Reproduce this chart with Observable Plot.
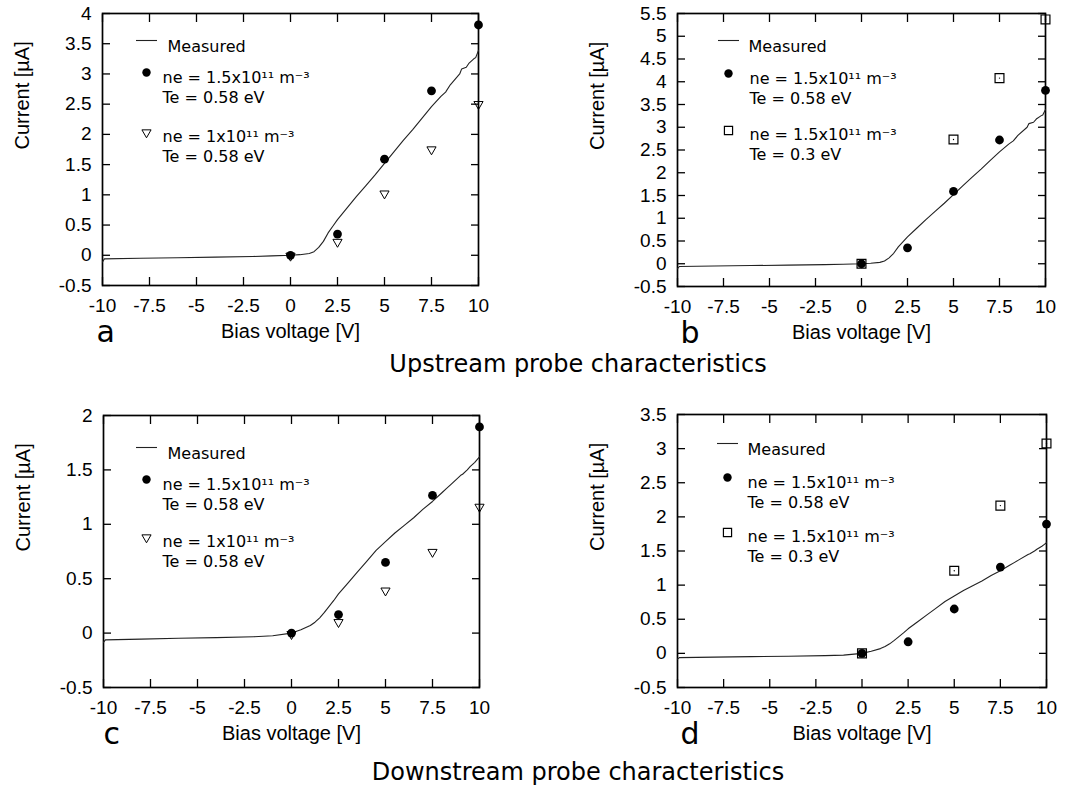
<!DOCTYPE html>
<html>
<head>
<meta charset="utf-8">
<script src="https://cdn.jsdelivr.net/npm/d3@7"></script>
<script src="https://cdn.jsdelivr.net/npm/@observablehq/plot@0.6"></script>
<style>
  body { margin: 0; background: #fff; }
  #fig { position: relative; width: 1074px; height: 786px; overflow: hidden; background: #fff; }
  .panel { position: absolute; }
  .caption {
    position: absolute; transform: translateX(-50%); white-space: nowrap;
    font-family: "DejaVu Sans"; font-size: 24px; line-height: 24px; color: #000;
  }
</style>
</head>
<body>
<div id="fig"></div>
<script>
// Bias sweep (V) at which the measured I–V traces are sampled
const sweepBias = [-10, -9.9, -8, -6, -4, -2, -1, 0, 0.5, 1, 1.25, 1.5, 1.75, 2, 2.25, 2.5, 3, 3.5, 4, 4.5, 5, 5.5, 6, 6.5, 7, 7.5, 8, 8.25, 8.5, 9, 9.1, 9.35, 9.5, 9.75, 9.85, 10];
// Measured probe current (µA)
const upstreamMeasured = [-0.11, -0.06, -0.05, -0.04, -0.03, -0.02, -0.01, 0, 0.01, 0.03, 0.06, 0.13, 0.23, 0.37, 0.48, 0.59, 0.78, 0.97, 1.15, 1.33, 1.52, 1.71, 1.9, 2.08, 2.27, 2.46, 2.63, 2.7, 2.82, 3.0, 3.08, 3.11, 3.18, 3.25, 3.27, 3.39];
const downstreamMeasured = [-0.085, -0.062, -0.055, -0.048, -0.042, -0.033, -0.025, 0, 0.03, 0.07, 0.1, 0.14, 0.19, 0.245, 0.3, 0.36, 0.46, 0.56, 0.66, 0.76, 0.84, 0.92, 0.99, 1.06, 1.14, 1.21, 1.29, 1.33, 1.37, 1.45, 1.46, 1.5, 1.53, 1.57, 1.59, 1.62];

// Model bias points (V)
const modelBias = [0, 2.5, 5, 7.5, 10];
const coldBias = [0, 5, 7.5, 10];
// Model currents (µA)
const upstreamDense = [0, 0.35, 1.59, 2.72, 3.81];     // ne = 1.5e11, Te = 0.58 eV
const upstreamSparse = [-0.01, 0.22, 1.02, 1.75, 2.5];  // ne = 1e11,   Te = 0.58 eV
const upstreamCold = [0, 2.73, 4.08, 5.37];             // ne = 1.5e11, Te = 0.3 eV
const downstreamDense = [0, 0.17, 0.65, 1.265, 1.895];
const downstreamSparse = [-0.01, 0.1, 0.39, 0.745, 1.16];
const downstreamCold = [0, 1.21, 2.165, 3.075];

// Axis ticks and text
const xTicks = [-10, -7.5, -5, -2.5, 0, 2.5, 5, 7.5, 10];
const yTicksA = [-0.5, 0, 0.5, 1, 1.5, 2, 2.5, 3, 3.5, 4];
const yTicksB = [-0.5, 0, 0.5, 1, 1.5, 2, 2.5, 3, 3.5, 4, 4.5, 5, 5.5];
const yTicksC = [-0.5, 0, 0.5, 1, 1.5, 2];
const yTicksD = [-0.5, 0, 0.5, 1, 1.5, 2, 2.5, 3, 3.5];
const xLabel = "Bias voltage [V]";
const yLabel = "Current [µA]";
const legendMeasured = "Measured";
const legendDense = ["ne = 1.5x10¹¹ m⁻³", "Te = 0.58 eV"];
const legendSparse = ["ne = 1x10¹¹ m⁻³", "Te = 0.58 eV"];
const legendCold = ["ne = 1.5x10¹¹ m⁻³", "Te = 0.3 eV"];
const captions = ["Upstream probe characteristics", "Downstream probe characteristics"];

const INK = "#000";
const tickFmt = d => String(d);

// short horizontal stroke used as the line sample in the key
const dashSymbol = {
  draw(ctx, size) {
    const w = Math.sqrt(size / Math.PI);
    ctx.moveTo(-w, 0);
    ctx.lineTo(w, 0);
  }
};

function probePanel(o) {
  const line = sweepBias.map((x, i) => ({x, y: o.measured[i]}));
  const dense = modelBias.map((x, i) => ({x, y: o.dense[i]}));
  const alt = o.altBias.map((x, i) => ({x, y: o.alt[i]}));
  const lg = o.legend;
  const keyFont = {fontFamily: "DejaVu Sans", fontSize: 16, textAnchor: "start", fill: INK};
  const denseDots = Plot.dot(dense, {x: "x", y: "y", r: 4.4, fill: INK});

  // open triangles sit beneath the filled circles; open squares are drawn over them
  const pointMarks = o.altKind === "triangle"
    ? [Plot.dot(alt, {x: "x", y: "y", symbol: "triangle", rotate: 180, r: 3.4, stroke: INK, strokeWidth: 1, fill: "none"}),
       denseDots]
    : [denseDots,
       Plot.dot(alt, {x: "x", y: "y", symbol: "square", r: 5, stroke: INK, strokeWidth: 1.2, fill: "none"}),
       Plot.dot(alt, {x: "x", y: "y", r: 0.7, fill: INK})];
  const altKey = o.altKind === "triangle"
    ? Plot.dot([0], {frameAnchor: "top-left", dx: lg.sym, dy: lg.alt, symbol: "triangle", rotate: 180, r: 3.4, stroke: INK, strokeWidth: 1})
    : Plot.dot([0], {frameAnchor: "top-left", dx: lg.sym, dy: lg.alt, symbol: "square", r: 4.6, stroke: INK, strokeWidth: 1.2});

  const svg = Plot.plot({
    width: 537,
    height: 350,
    marginTop: o.m[0], marginRight: o.m[1], marginBottom: o.m[2], marginLeft: o.m[3],
    x: {domain: [-10, 10], label: null},
    y: {domain: [-0.5, o.yMax], label: null},
    style: {fontFamily: "Liberation Sans", fontSize: "19px", color: INK, background: "transparent", overflow: "visible"},
    marks: [
      // tick labels
      Plot.axisX(xTicks, {anchor: "bottom", tickSize: 0, tickPadding: 13, tickFormat: tickFmt, label: null, fontSize: 19}),
      Plot.axisY(o.yTicks, {anchor: "left", tickSize: 0, tickPadding: 11, tickFormat: tickFmt, label: null, fontSize: 19}),
      // inward ticks, mirrored on all four sides
      Plot.axisX(xTicks, {anchor: "bottom", tickSize: 8, dy: -8, fill: "none", strokeWidth: 1.3, label: null}),
      Plot.axisX(xTicks, {anchor: "top", tickSize: 8, dy: 8, fill: "none", strokeWidth: 1.3, label: null}),
      Plot.axisY(o.yTicks, {anchor: "left", tickSize: 8, dx: 8, fill: "none", strokeWidth: 1.3, label: null}),
      Plot.axisY(o.yTicks, {anchor: "right", tickSize: 8, dx: -8, fill: "none", strokeWidth: 1.3, label: null}),
      Plot.frame({stroke: INK, strokeWidth: 1.7}),
      // axis titles and panel letter
      Plot.text([xLabel], {frameAnchor: "bottom", dy: 52, fontSize: 20, fill: INK}),
      Plot.text([yLabel], {frameAnchor: "left", dx: -80, rotate: -90, fontSize: 20, fill: INK}),
      Plot.text([o.letter], {frameAnchor: "bottom-left", dx: o.letterDx, dy: 56, textAnchor: "start", lineAnchor: "bottom", fontSize: 30, fontFamily: "DejaVu Sans", fill: INK}),
      // measured trace
      Plot.line(line, {x: "x", y: "y", stroke: "#222", strokeWidth: 1.1}),
      // model points
      ...pointMarks,
      // key
      Plot.dot([0], {frameAnchor: "top-left", dx: lg.line, dy: lg.meas, symbol: dashSymbol, r: 10.5, stroke: "#222", strokeWidth: 1.1}),
      Plot.text([legendMeasured], {frameAnchor: "top-left", dx: lg.measText, dy: lg.meas, ...keyFont}),
      Plot.dot([0], {frameAnchor: "top-left", dx: lg.sym, dy: lg.dense, r: 4.2, fill: INK}),
      Plot.text([lg.denseText[0]], {frameAnchor: "top-left", dx: lg.text, dy: lg.dense - 1, ...keyFont}),
      Plot.text([lg.denseText[1]], {frameAnchor: "top-left", dx: lg.text, dy: lg.dense + 19, ...keyFont}),
      altKey,
      Plot.text([lg.altText[0]], {frameAnchor: "top-left", dx: lg.text, dy: lg.alt - 2, ...keyFont}),
      Plot.text([lg.altText[1]], {frameAnchor: "top-left", dx: lg.text, dy: lg.alt + 18, ...keyFont})
    ]
  });
  svg.classList.add("panel");
  svg.style.left = o.left + "px";
  svg.style.top = o.top + "px";
  return svg;
}

const fig = document.getElementById("fig");

fig.appendChild(probePanel({
  left: 0, top: 0, m: [13, 59, 65, 102], yMax: 4, yTicks: yTicksA, letter: "a", letterDx: -6,
  measured: upstreamMeasured, dense: upstreamDense, altBias: modelBias, alt: upstreamSparse, altKind: "triangle",
  legend: {line: 44, measText: 65, meas: 27, sym: 44, text: 60, dense: 59, alt: 119, denseText: legendDense, altText: legendSparse}
}));
fig.appendChild(probePanel({
  left: 537, top: 0, m: [13, 29, 64, 140], yMax: 5.5, yTicks: yTicksB, letter: "b", letterDx: 3,
  measured: upstreamMeasured, dense: upstreamDense, altBias: coldBias, alt: upstreamCold, altKind: "square",
  legend: {line: 51, measText: 71, meas: 27, sym: 51, text: 72, dense: 60, alt: 117, denseText: legendDense, altText: legendCold}
}));
fig.appendChild(probePanel({
  left: 0, top: 400, m: [15, 58, 63, 103], yMax: 2, yTicks: yTicksC, letter: "c", letterDx: 0,
  measured: downstreamMeasured, dense: downstreamDense, altBias: modelBias, alt: downstreamSparse, altKind: "triangle",
  legend: {line: 43, measText: 64, meas: 32, sym: 43, text: 59, dense: 64, alt: 122, denseText: legendDense, altText: legendSparse}
}));
fig.appendChild(probePanel({
  left: 537, top: 400, m: [14, 28, 63, 140], yMax: 3.5, yTicks: yTicksD, letter: "d", letterDx: 3,
  measured: downstreamMeasured, dense: downstreamDense, altBias: coldBias, alt: downstreamCold, altKind: "square",
  legend: {line: 50, measText: 70, meas: 29, sym: 50, text: 70, dense: 63, alt: 118, denseText: legendDense, altText: legendCold}
}));

[[captions[0], 352], [captions[1], 760]].forEach(([t, top]) => {
  const div = document.createElement("div");
  div.className = "caption";
  div.textContent = t;
  div.style.left = "578px";
  div.style.top = top + "px";
  fig.appendChild(div);
});
</script>
</body>
</html>
